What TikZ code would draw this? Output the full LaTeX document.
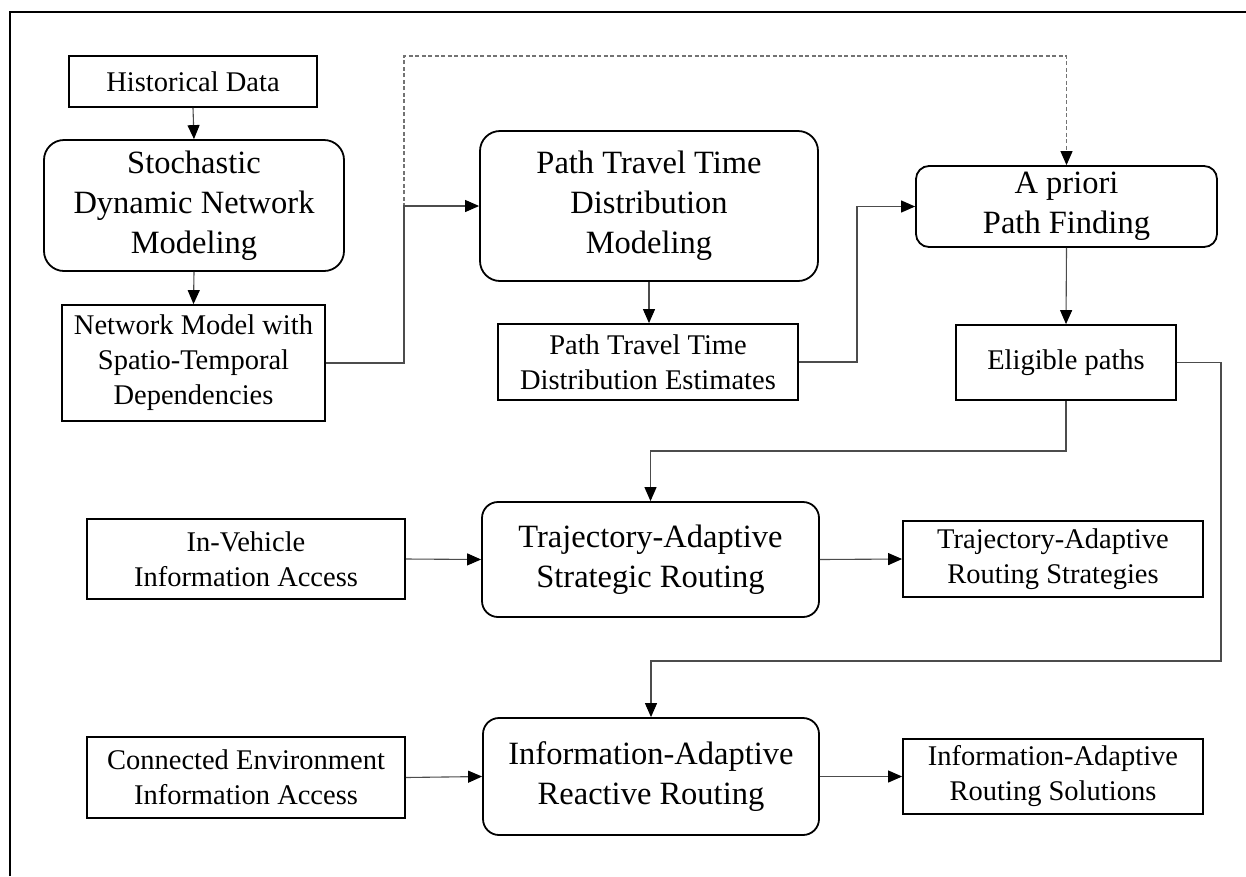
\documentclass[tikz,border=0pt]{standalone}
\usepackage{fontspec}
\setmainfont{Liberation Serif}
\usetikzlibrary{arrows.meta}
\newcommand\txtS{\fontsize{28.5}{35}\selectfont}
\newcommand\txtB{\fontsize{32.5}{40}\selectfont}
\begin{document}
\begin{tikzpicture}[x=1pt,y=-1pt,
  box/.style={draw, line width=1.8pt, inner sep=0pt, align=center, font=\txtS},
  rbox/.style={box, rounded corners=20pt, font=\txtB},
  conn/.style={line width=1.1pt, draw=black!70, -{Triangle[length=14pt,width=12pt,color=black]}},
  dconn/.style={conn, draw=black!55, dash pattern=on 4pt off 2.5pt}]
\useasboundingbox (0,0) rectangle (1246,876);
\fill[white] (0,0) rectangle (1246,876);
% frame
\draw[line width=1.2pt] (10,876) -- (10,12) -- (1246,12);
% nodes
\node[box, minimum width=248pt, minimum height=51pt] (hist) at (193,81.5) {Historical Data};
\node[rbox, minimum width=300pt, minimum height=131pt] (sdn) at (194,205.5) {Stochastic\\Dynamic Network\\Modeling};
\node[box, minimum width=263pt, minimum height=116pt] (nm) at (193.5,363) {Network Model with\\Spatio-Temporal\\Dependencies};
\node[rbox, minimum width=338pt, minimum height=150pt] (pt) at (649,206) {Path Travel Time\\Distribution\\Modeling};
\node[box, minimum width=300pt, minimum height=76pt] (est) at (648,362) {Path Travel Time\\Distribution Estimates};
\node[rbox, rounded corners=13pt, minimum width=301pt, minimum height=81pt] (apr) at (1066.5,206.5) {A priori\\Path Finding};
\node[box, minimum width=220pt, minimum height=75pt] (elig) at (1066,362.5) {Eligible paths};
\node[box, minimum width=318pt, minimum height=80pt] (ivia) at (246,559) {In-Vehicle\\Information Access};
\node[rbox, rounded corners=16pt, minimum width=337pt, minimum height=115pt] (tasr) at (650.5,559.5) {Trajectory-Adaptive\\Strategic Routing};
\node[box, minimum width=300pt, minimum height=76pt] (tars) at (1053,559) {Trajectory-Adaptive\\Routing Strategies};
\node[box, minimum width=318pt, minimum height=81pt] (ceia) at (246,777.5) {Connected Environment\\Information Access};
\node[rbox, rounded corners=16pt, minimum width=336pt, minimum height=117pt] (iarr) at (651,776.5) {Information-Adaptive\\Reactive Routing};
\node[box, minimum width=300pt, minimum height=75pt] (iars) at (1053,776.5) {Information-Adaptive\\Routing Solutions};
% junction coordinates
\coordinate (jA) at (404,206);
\coordinate (jT) at (404,56);
\coordinate (jB) at (857,206.5);
\coordinate (jC) at (650.5,451);
\coordinate (jD) at (1221,661);
\coordinate (jE) at (651,661);
% connectors
\draw[conn] (hist.south) -- (sdn.north);
\draw[conn] (sdn.south) -- (nm.north);
\draw[dconn] (nm.east) -| (jT) -| (apr.north);
\draw[conn] (nm.east) -| (jA) -- (pt.west);
\draw[conn] (pt.south) -- (pt.south|-est.north);
\draw[conn] (est.east) -| (jB) -- (apr.west);
\draw[conn] (apr.south) -- (elig.north);
\draw[conn] (elig.south) |- (jC) -- (tasr.north);
\draw[conn] (elig.east) -| (jD) -- (jE) -- (iarr.north);
\draw[conn] (ivia.east) -- (tasr.west);
\draw[conn] (tasr.east) -- (tars.west);
\draw[conn] (ceia.east) -- (iarr.west);
\draw[conn] (iarr.east) -- (iars.west);
\end{tikzpicture}
\end{document}
